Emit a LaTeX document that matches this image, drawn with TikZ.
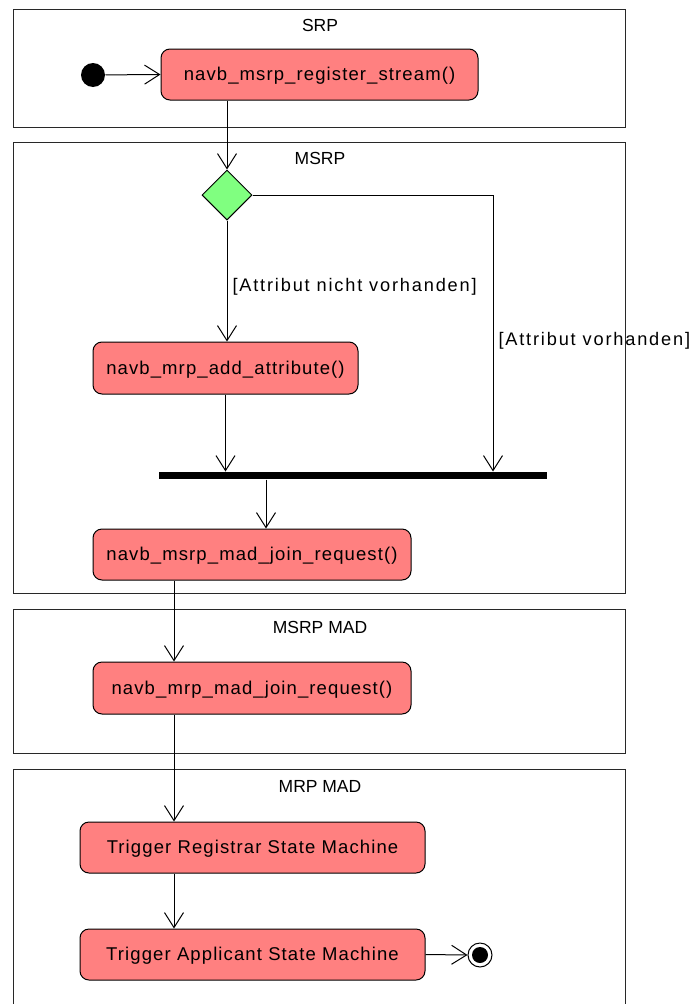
\documentclass[tikz,border=0pt]{standalone}
\usepackage{fontspec}
\setmainfont{Liberation Sans}
\newfontfamily\actfont[LetterSpace=6]{Liberation Sans}
\newfontfamily\guardfont[LetterSpace=10]{Liberation Sans}
\usetikzlibrary{arrows.meta,shapes.geometric}
\definecolor{actred}{RGB}{255,128,128}
\definecolor{decgreen}{RGB}{128,255,128}
\definecolor{framegray}{RGB}{40,40,40}
\begin{document}
\begin{tikzpicture}[x=1pt,y=-1pt,
  line width=1pt,
  flow/.style={-{Straight Barb[length=15pt,width=19pt]}},
  action/.style={draw=black, fill=actred, rounded corners=9pt, inner sep=0pt,
    text height=16.5pt, text depth=4pt,
    font=\actfont\fontsize{18.5}{22}\selectfont},
  partition/.style={draw=framegray, line width=1pt},
  partlabel/.style={font=\fontsize{17.5}{21}\selectfont, inner sep=0pt},
  guard/.style={font=\guardfont\fontsize{18.2}{22}\selectfont, inner sep=0pt, anchor=west},
  decision/.style={diamond, draw=black, fill=decgreen, minimum width=50pt, minimum height=50pt, inner sep=0pt},
  startnode/.style={circle, fill=black, minimum size=24pt, inner sep=0pt},
  endnode/.style={circle, draw=black, fill=white, minimum size=24pt, inner sep=0pt},
  forkbar/.style={fill=black, minimum width=388pt, minimum height=7pt, inner sep=0pt}
]
\useasboundingbox (0,0) rectangle (694,1004);

% swimlane partitions
\draw[partition] (13,9) rectangle (625,127);
\draw[partition] (13,142) rectangle (625,593);
\draw[partition] (13,609) rectangle (625,753);
\draw[partition] (13,1010) -- (13,769) -- (625,769) -- (625,1010);
\node[partlabel] (lsrp) at (320,25) {SRP};
\node[partlabel] (lmsrp) at (320,158) {MSRP};
\node[partlabel] (lmsrpmad) at (320,627) {MSRP MAD};
\node[partlabel] (lmrpmad) at (320,786) {MRP MAD};

% nodes
\node[startnode] (start) at (93,75) {};
\node[action, minimum width=317pt, minimum height=51pt] (reg) at (319.5,74.5) {navb\_msrp\_register\_stream()};
\node[decision] (dec) at (227,195) {};
\node[action, minimum width=265pt, minimum height=52pt] (add) at (225.5,368) {navb\_mrp\_add\_attribute()};
\node[forkbar] (bar) at (353,475.5) {};
\node[action, minimum width=318pt, minimum height=51pt] (msrpjoin) at (252,554.5) {navb\_msrp\_mad\_join\_request()};
\node[action, minimum width=318pt, minimum height=52pt] (mrpjoin) at (252,688) {navb\_mrp\_mad\_join\_request()};
\node[action, minimum width=345pt, minimum height=51pt] (registrar) at (252.5,847.5) {Trigger Registrar State Machine};
\node[action, minimum width=345pt, minimum height=51pt] (applicant) at (252.5,954.5) {Trigger Applicant State Machine};
\node[endnode] (end) at (480,955) {};
\fill (end.center) circle (8pt);

% helper columns for vertical connectors
\coordinate (colright) at (493,0);
\coordinate (coljoin) at (266,0);
\coordinate (colmad) at (174,0);

% connectors
\draw[flow] (start) -- (reg.west);
\draw[flow] (dec.north |- reg.south) -- (dec.north);
\draw[flow] (dec.south) -- (dec.south |- add.north);
\draw[flow] (dec.east) -| (colright |- bar.north);
\draw[flow] (add.south) -- (add.south |- bar.north);
\draw[flow] (coljoin |- bar.south) -- (coljoin |- msrpjoin.north);
\draw[flow] (colmad |- msrpjoin.south) -- (colmad |- mrpjoin.north);
\draw[flow] (colmad |- mrpjoin.south) -- (colmad |- registrar.north);
\draw[flow] (colmad |- registrar.south) -- (colmad |- applicant.north);
\draw[flow] (applicant.east) -- (end.west);

% guard labels
\node[guard] (gno) at (232,287) {[Attribut nicht vorhanden]};
\node[guard] (gyes) at (498,341) {[Attribut vorhanden]};
\end{tikzpicture}
\end{document}
